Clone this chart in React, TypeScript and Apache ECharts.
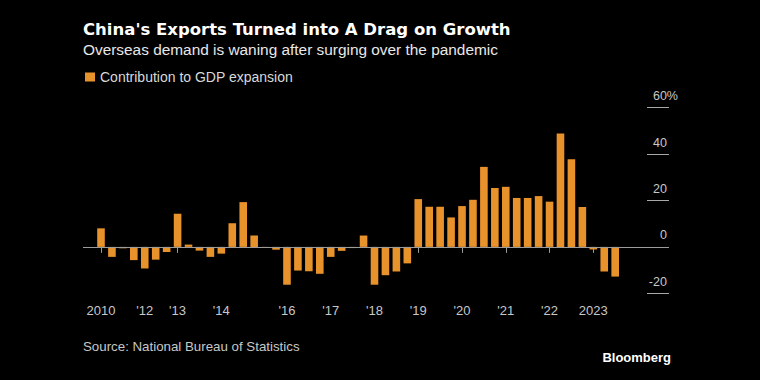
import React, { useEffect, useRef } from "react";
import * as echarts from "echarts";

const seriesName = "Contribution to GDP expansion";
// Quarterly contribution (%), in order
const contributions: number[] = [
  8.0, -4.3, -0.6, -5.7, -9.3, -5.5, -2.2, 14.3, 1.0, -1.6, -4.3, -2.9,
  10.2, 19.3, 4.9, -0.4, -1.2, -16.3, -10.2, -10.5, -11.6, -4.3, -1.7, -0.5,
  4.9, -16.3, -12.2, -10.6, -7.1, 20.6, 17.3, 17.3, 12.7, 17.6, 20.3, 34.5,
  25.4, 25.9, 21.1, 21.1, 21.9, 19.5, 48.9, 37.8, 17.2, -1.1, -10.6, -12.8,
];
const yearTickIndex: number[] = [0, 4, 7, 11, 17, 21, 25, 29, 33, 37, 41, 45];
const yearTickLabels: string[] = ["2010", "'12", "'13", "'14", "'16", "'17", "'18", "'19", "'20", "'21", "'22", "2023"];
const yTicks = { min: -20, max: 60, interval: 20 };

const FONT = "'Liberation Sans', Arial, sans-serif";
const TITLE_FONT = "'DejaVu Sans', Verdana, sans-serif";

export default function App() {
  const ref = useRef<HTMLDivElement>(null);
  useEffect(() => {
    if (!ref.current) return;
    const chart = echarts.init(ref.current, null, { renderer: "svg" });
    const gridTop = 107.7;
    const gridBottom = 86.7;
    const option: any = {
      animation: false,
      backgroundColor: "#000000",
      textStyle: { fontFamily: FONT },
      title: [
        {
          text: "China's Exports Turned into A Drag on Growth",
          left: 78,
          top: 16,
          padding: 5,
          textStyle: { color: "#ffffff", fontSize: 16.5, fontWeight: "bold", fontFamily: TITLE_FONT },
        },
        {
          text: "Overseas demand is waning after surging over the pandemic",
          left: 78,
          top: 37,
          padding: 5,
          textStyle: { color: "#e8e8e8", fontSize: 15.4, fontWeight: "normal", fontFamily: FONT },
        },
      ],
      legend: {
        data: [seriesName],
        left: 80,
        top: 65,
        icon: "rect",
        itemWidth: 10,
        itemHeight: 9,
        itemGap: 10,
        textStyle: { color: "#d9d9d9", fontSize: 14, fontFamily: FONT },
      },
      grid: [
        { left: 83, right: 91, top: gridTop, bottom: gridBottom, containLabel: false },
        { left: 647, right: 91, top: gridTop, bottom: gridBottom, containLabel: false },
      ],
      xAxis: [
        {
          type: "value",
          gridIndex: 0,
          min: -18 / 10.94,
          max: -18 / 10.94 + 586 / 10.94,
          splitLine: { show: false },
          axisLine: { show: false },
          axisTick: {
            show: true,
            customValues: yearTickIndex,
            length: 6,
            lineStyle: { color: "#9a9a9a", width: 1 },
          },
          axisLabel: {
            show: true,
            customValues: yearTickIndex,
            margin: 11,
            color: "#c8c8c8",
            fontSize: 13,
            fontFamily: FONT,
            formatter: (v: number) => {
              const k = yearTickIndex.indexOf(Math.round(v));
              return k >= 0 ? yearTickLabels[k] : "";
            },
          },
        },
        { type: "value", gridIndex: 1, min: 0, max: 1, axisLine: { show: false }, axisTick: { show: false }, axisLabel: { show: false }, splitLine: { show: false } },
      ],
      yAxis: [
        {
          type: "value",
          gridIndex: 0,
          min: yTicks.min,
          max: yTicks.max,
          interval: yTicks.interval,
          show: false,
        },
        {
          type: "value",
          gridIndex: 1,
          position: "right",
          min: yTicks.min,
          max: yTicks.max,
          interval: yTicks.interval,
          axisLine: { show: false },
          axisTick: { show: false },
          splitLine: { show: true, lineStyle: { color: "#a8a8a8", width: 1 } },
          axisLabel: {
            show: true,
            inside: false,
            margin: 9,
            align: "right",
            verticalAlign: "bottom",
            padding: [0, 0, 5, 0],
            fontSize: 12.5,
            color: "#c8c8c8",
            fontFamily: FONT,
            formatter: (v: number) =>
              v === yTicks.max ? "{n|" + v + "%}" : "{n|" + v + "}{h|%}",
            rich: {
              n: { fontSize: 12.5, color: "#c8c8c8", fontFamily: FONT },
              h: { fontSize: 12.5, color: "rgba(0,0,0,0)", fontFamily: FONT },
            },
          },
        },
      ],
      series: [
        {
          name: seriesName,
          type: "bar",
          xAxisIndex: 0,
          yAxisIndex: 0,
          barWidth: 7.6,
          itemStyle: { color: "#e8922c" },
          data: contributions.map((v, i) => [i, v]),
          markLine: {
            silent: true,
            symbol: ["none", "none"],
            label: { show: false },
            lineStyle: { color: "#9c9c9c", type: "solid", width: 1 },
            data: [{ yAxis: 0 }],
          },
        },
      ],
      graphic: [
        {
          type: "text",
          left: 83,
          top: 340,
          style: { text: "Source: National Bureau of Statistics", fill: "#c8c8c8", fontSize: 13.3, fontFamily: FONT },
        },
        {
          type: "text",
          right: 89,
          top: 351,
          style: { text: "Bloomberg", fill: "#ffffff", fontSize: 13, fontWeight: "bold", fontFamily: FONT },
        },
      ],
    };
    chart.setOption(option);
    return () => chart.dispose();
  }, []);
  return (
    <div
      ref={ref}
      style={{ position: "fixed", left: 0, top: 0, width: 760, height: 380, background: "#000" }}
    />
  );
}
